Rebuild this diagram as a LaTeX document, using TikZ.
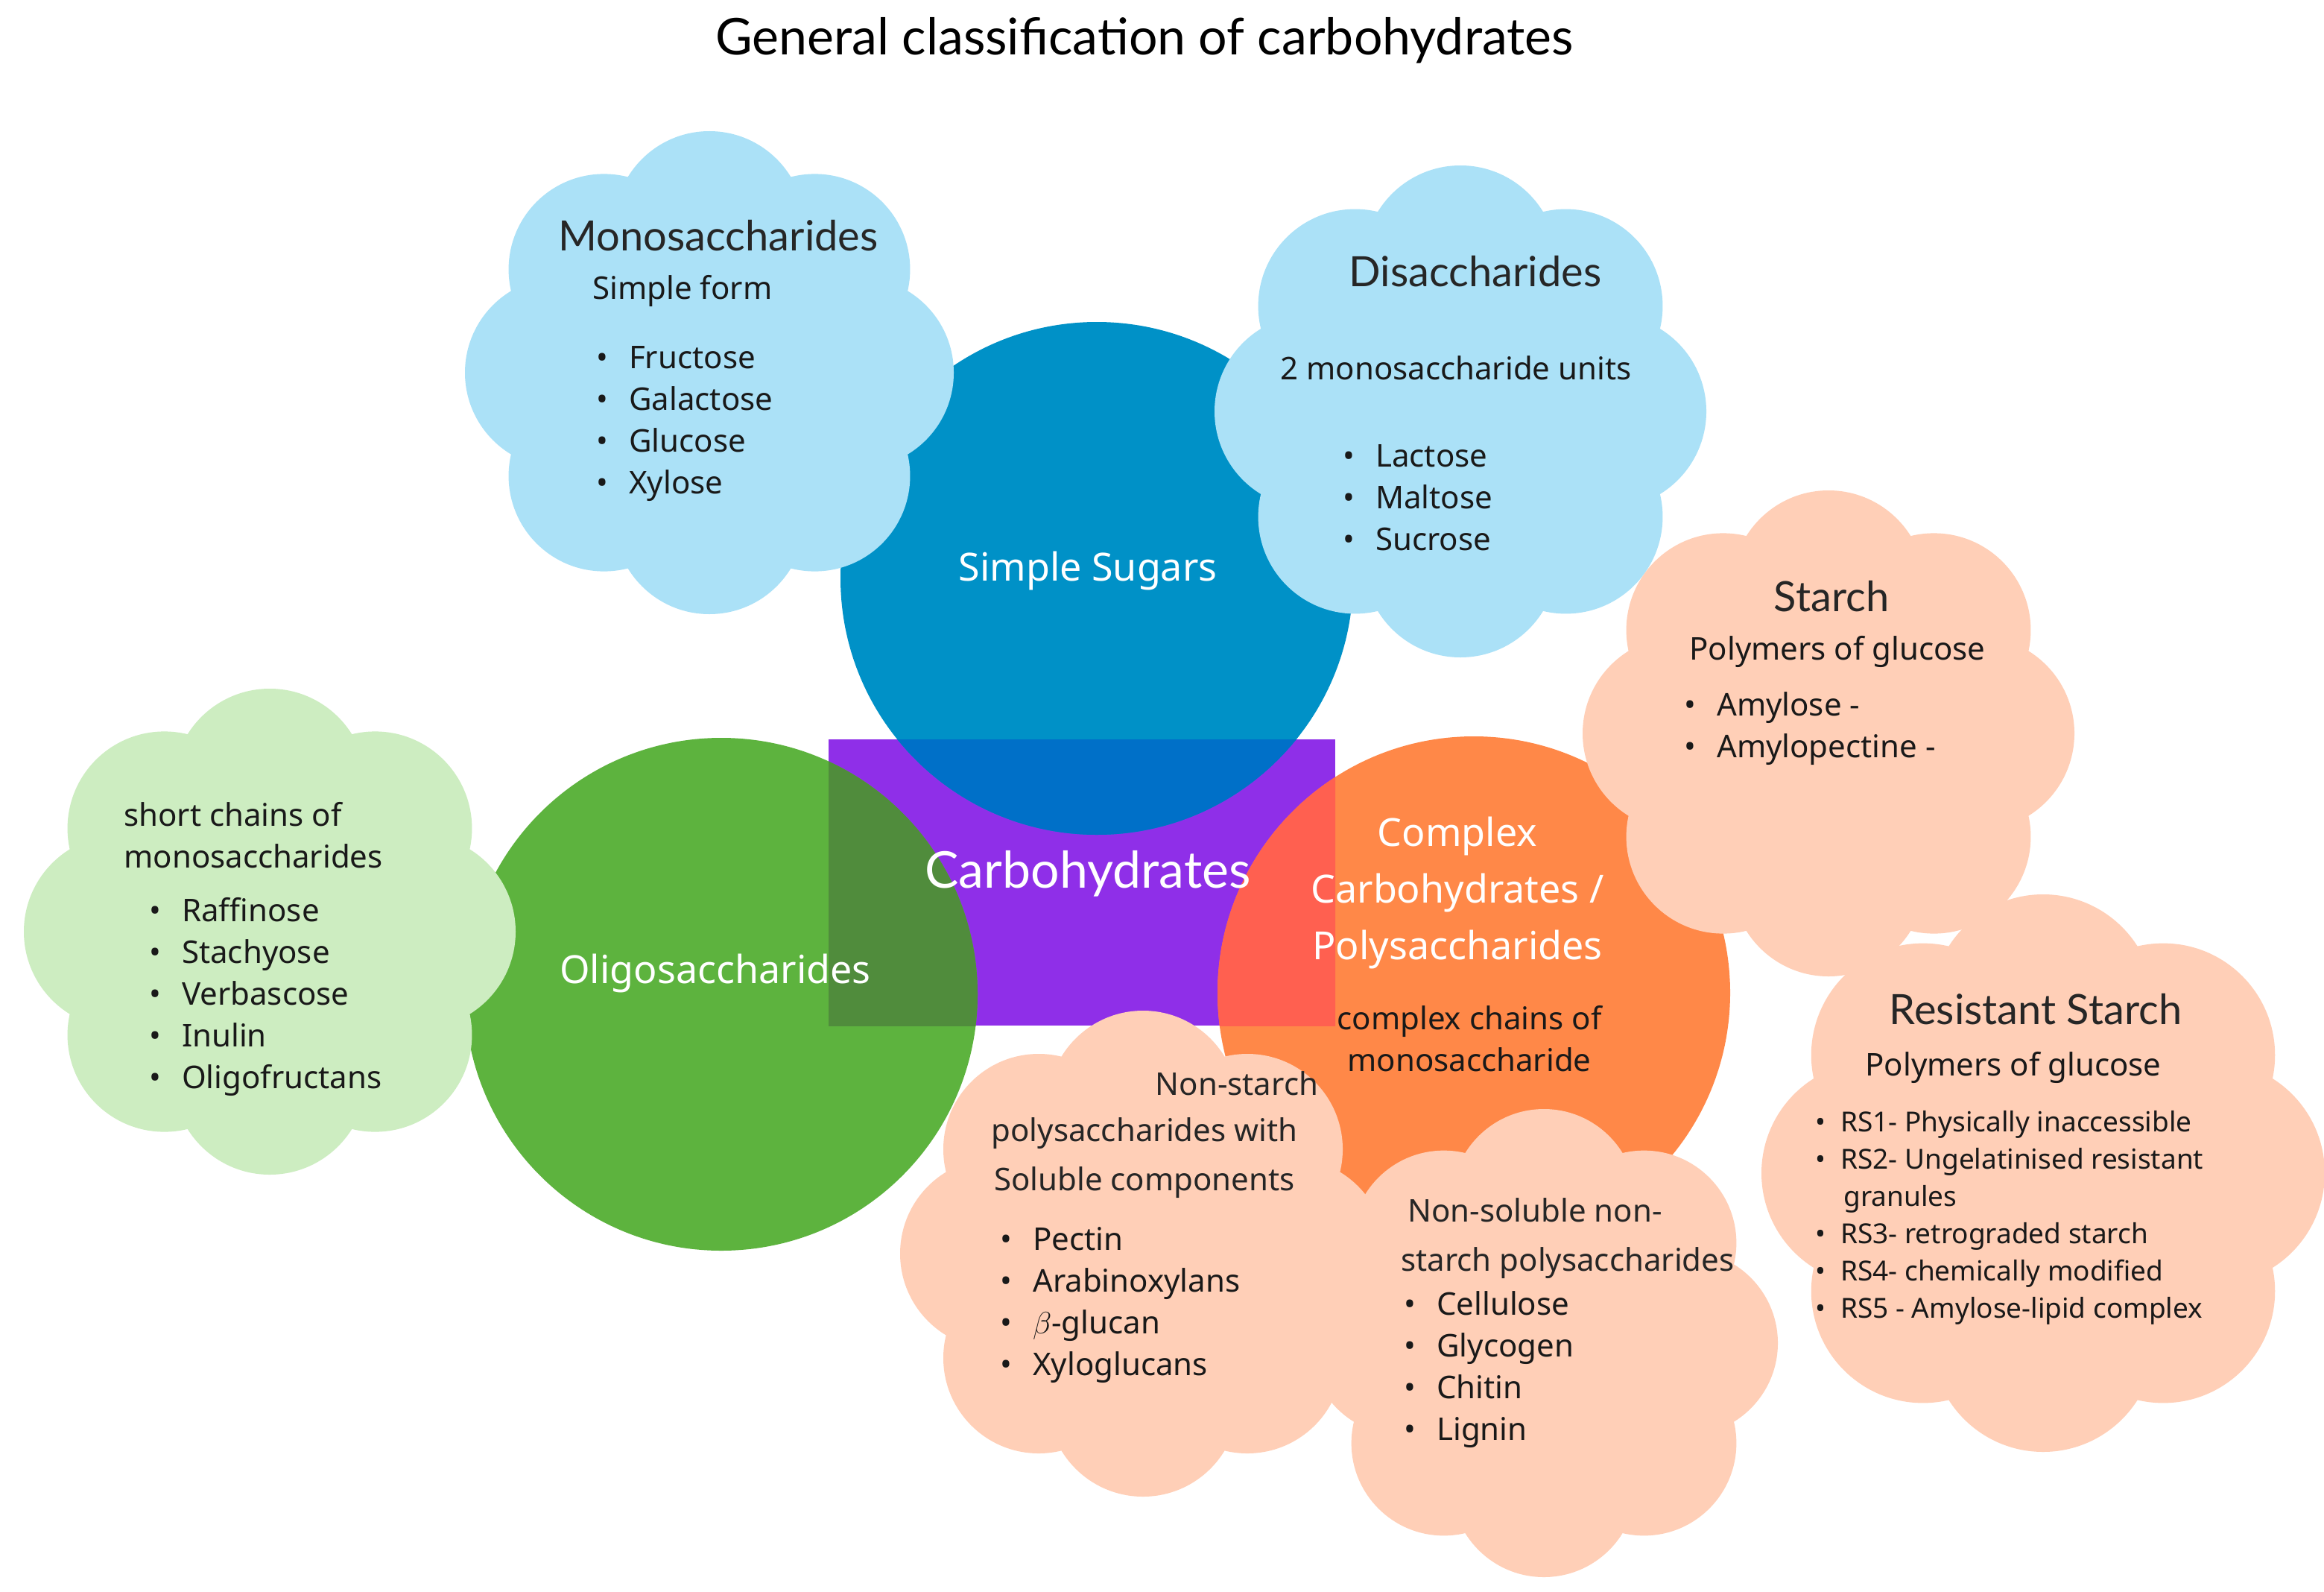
\documentclass[tikz,border=0pt]{standalone}
\usepackage{fontspec}
\setmainfont{Noto Sans}
\newfontfamily\headf{Lato}
\begin{document}
\begin{tikzpicture}[x=1pt,y=-1pt,
  txt/.style={text=black!90,font=\fontsize{21}{28}\selectfont,inner sep=0pt},
  hd/.style={text=black!85,font=\headf\fontsize{28}{34}\selectfont,inner sep=0pt},
  big/.style={text=white,font=\bfseries\fontsize{26}{38}\selectfont,inner sep=0pt,align=center},
  lst/.style={txt,anchor=north west,align=left},
  bh/.style={text=black!85,font=\bfseries\fontsize{21}{33}\selectfont,inner sep=0pt,align=center}]
\definecolor{cblue}{HTML}{0091C7}
\definecolor{cgreen}{HTML}{5DB33E}
\definecolor{corange}{HTML}{FF8848}
\definecolor{cpurple}{HTML}{8F2FE8}
\definecolor{lblue}{HTML}{ABE1F7}
\definecolor{lgreen}{HTML}{CDEDC1}
\definecolor{lpeach}{HTML}{FFCFB7}
\definecolor{oblue}{HTML}{0070C8}
\definecolor{ogreen}{HTML}{508C3C}
\definecolor{oorange}{HTML}{FF6050}
\newcommand{\mycloud}[6]{% cx cy ox oy r color
  \fill[#6] (#1,#2) ellipse [x radius=#3, y radius=#4];
  \foreach \a in {0,45,...,315}{\fill[#6] ({#1+#3*cos(\a)},{#2-#4*sin(\a)}) circle (#5);}}
\useasboundingbox (0,0) rectangle (1559.5,1067.5);
\fill[white] (0,0) rectangle (1559.5,1067.5);
\node[hd,font=\headf\fontsize{34}{40}\selectfont,text=black] (title) at (768,27) {General classification of carbohydrates};
% centre
\fill[cpurple] (556,496) rectangle (896,688);
\fill[cblue] (736,388) circle (172);
\fill[cgreen] (484,667) circle (172);
\fill[corange] (989,666) circle (172);
\begin{scope}
\clip (556,496) rectangle (896,688);
\fill[oblue] (736,388) circle (172);
\fill[ogreen] (484,667) circle (172);
\fill[oorange] (989,666) circle (172);
\end{scope}
% clouds
\mycloud{476}{250}{100}{98}{64}{lblue}
\mycloud{980}{276}{100}{100}{65}{lblue}
\mycloud{1227}{492}{100}{98}{65}{lpeach}
\mycloud{1371}{787}{114}{112}{75}{lpeach}
\mycloud{181}{625}{100}{98}{65}{lgreen}
\mycloud{767}{841}{99}{99}{64}{lpeach}
\mycloud{1036}{901}{95}{95}{62}{lpeach}
% texts
\node[hd] (mono) at (482,158) {Monosaccharides};
\node[txt] (monos) at (458,195) {Simple form};
\node[lst] (monol) at (400,232) {\textbullet\hspace{14pt}Fructose\\\textbullet\hspace{14pt}Galactose\\\textbullet\hspace{14pt}Glucose\\\textbullet\hspace{14pt}Xylose};
\node[hd] (di) at (990,182) {Disaccharides};
\node[txt] (dis) at (977,247) {2 monosaccharide units};
\node[lst] (dil) at (901,298) {\textbullet\hspace{14pt}Lactose\\\textbullet\hspace{14pt}Maltose\\\textbullet\hspace{14pt}Sucrose};
\node[big] (ss) at (730,383) {Simple Sugars};
\node[hd] (st) at (1229,400) {Starch};
\node[txt] (sts) at (1233,437) {Polymers of glucose};
\node[lst] (stl) at (1130,464) {\textbullet\hspace{14pt}Amylose -\\\textbullet\hspace{14pt}Amylopectine -};
\node[lst] (ol) at (83,538) {short chains of\\monosaccharides};
\node[lst] (oll) at (100,602) {\textbullet\hspace{14pt}Raffinose\\\textbullet\hspace{14pt}Stachyose\\\textbullet\hspace{14pt}Verbascose\\\textbullet\hspace{14pt}Inulin\\\textbullet\hspace{14pt}Oligofructans};
\node[big] (olig) at (480,653) {Oligosaccharides};
\node[hd,text=white,font=\headf\fontsize{34}{40}\selectfont] (carb) at (730,586) {Carbohydrates};
\node[big] (cc) at (978,599) {Complex\\Carbohydrates /\\Polysaccharides};
\node[txt,align=center] (ccs) at (986,697) {complex chains of\\monosaccharide};
\node[hd] (rs) at (1366,677) {Resistant Starch};
\node[txt] (rss) at (1351,716) {Polymers of glucose};
\node[lst,font=\fontsize{18.5}{25}\selectfont] (rsl) at (1218,745) {\textbullet\hspace{10pt}RS1- Physically inaccessible\\\textbullet\hspace{10pt}RS2- Ungelatinised resistant\\\hspace{19pt}granules\\\textbullet\hspace{10pt}RS3- retrograded starch\\\textbullet\hspace{10pt}RS4- chemically modified\\\textbullet\hspace{10pt}RS5 - Amylose-lipid complex};
\node[bh] (ns1) at (830,727) {Non-starch};
\node[bh] (ns2) at (768,777) {polysaccharides with\\Soluble components};
\node[lst] (nsl) at (671,823) {\textbullet\hspace{14pt}Pectin\\\textbullet\hspace{14pt}Arabinoxylans\\\textbullet\hspace{14pt}$\beta$-glucan\\\textbullet\hspace{14pt}Xyloglucans};
\node[bh] (nn) at (1030,831) {Non-soluble non-\\\hspace*{44pt}starch polysaccharides};
\node[lst] (nnl) at (942,866) {\textbullet\hspace{14pt}Cellulose\\\textbullet\hspace{14pt}Glycogen\\\textbullet\hspace{14pt}Chitin\\\textbullet\hspace{14pt}Lignin};
\end{tikzpicture}
\end{document}
